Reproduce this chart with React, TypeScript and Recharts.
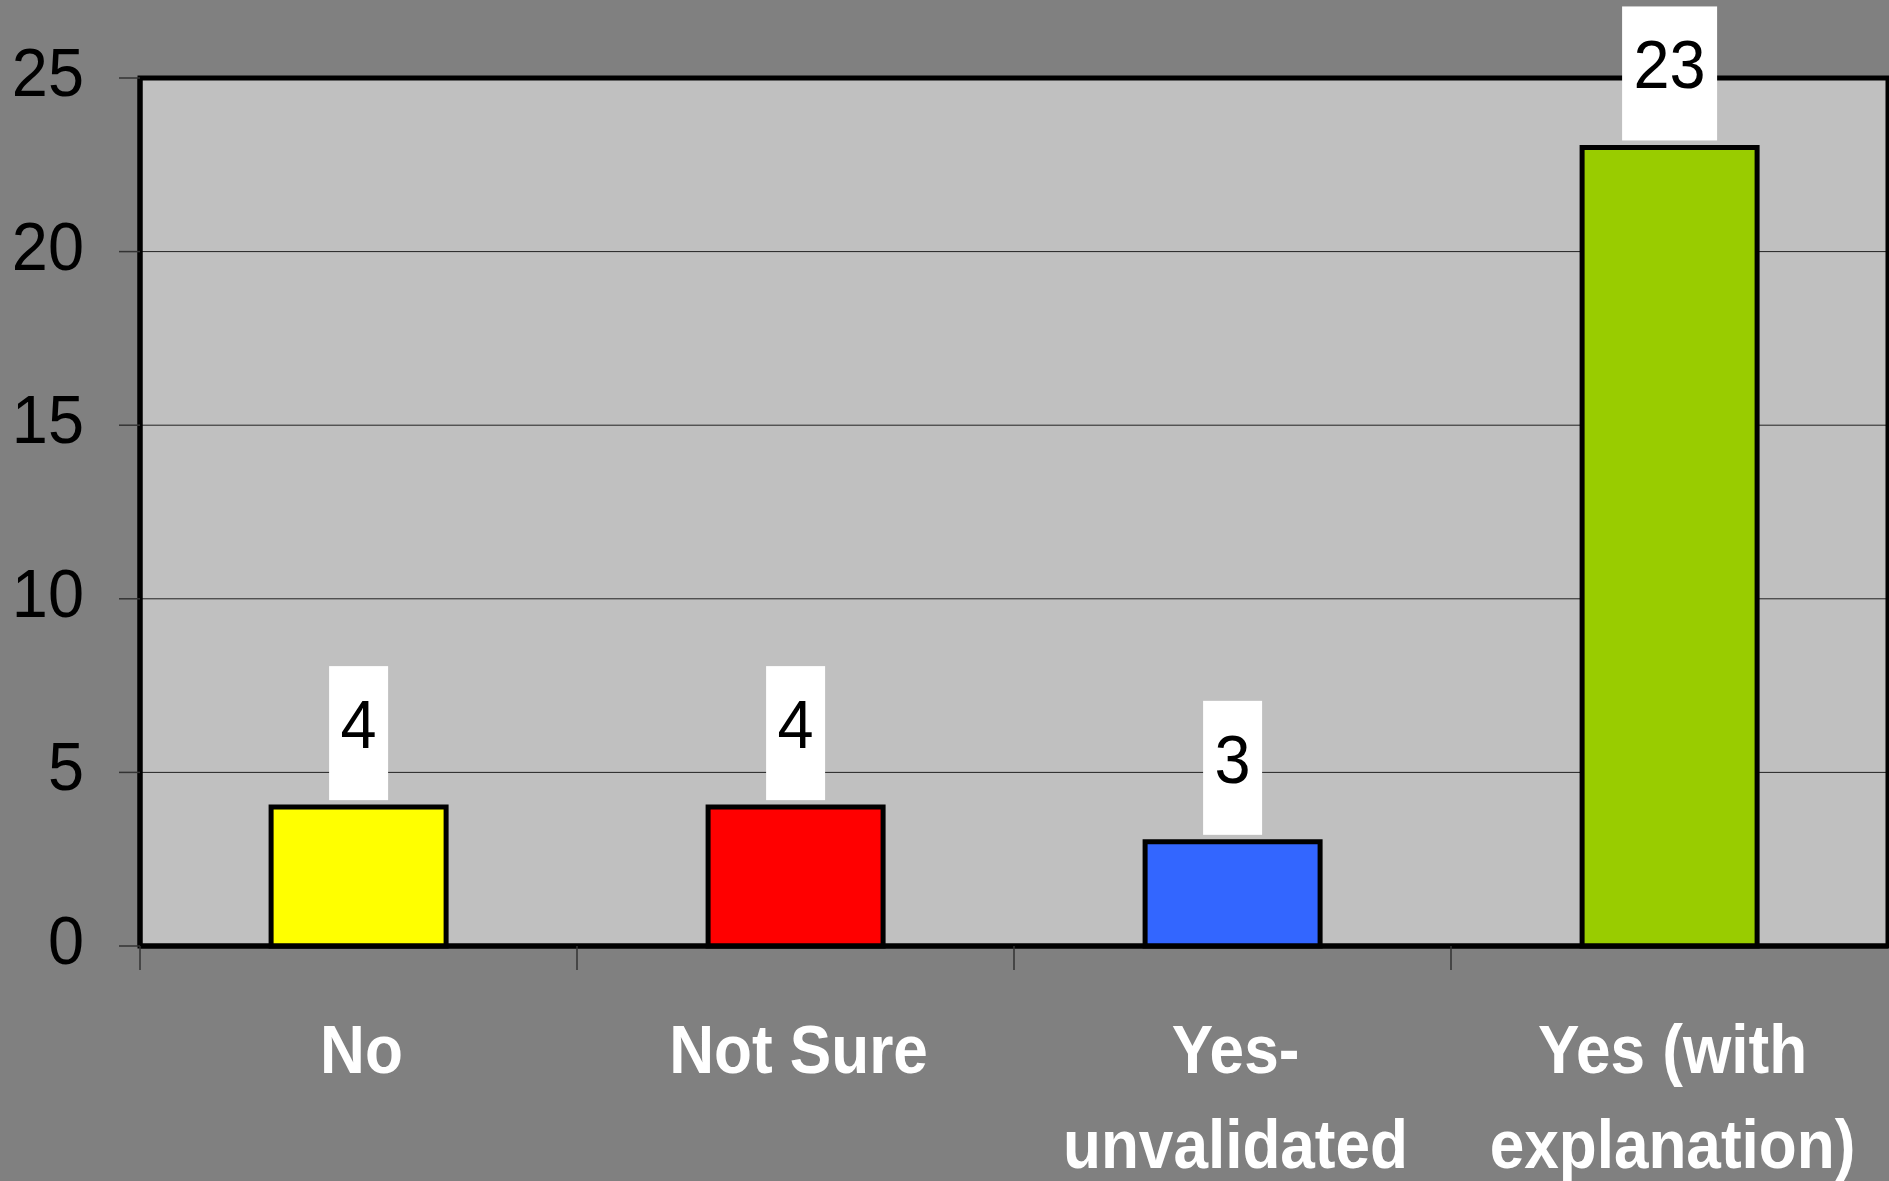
import React from "react";
import {
  BarChart,
  Bar,
  XAxis,
  YAxis,
  CartesianGrid,
  ReferenceArea,
  LabelList,
  Cell,
} from "recharts";

// Survey responses per answer
const categories = ["No", "Not Sure", "Yes-unvalidated", "Yes (with explanation)"];
const counts = [4, 4, 3, 23];
const barColors = ["#FFFF00", "#FF0000", "#3366FF", "#99CC00"];
const categoryLabelLines = [["No"], ["Not Sure"], ["Yes-", "unvalidated"], ["Yes (with", "explanation)"]];
const yTicks = [0, 5, 10, 15, 20, 25];

const data = categories.map((name, i) => ({ name, count: counts[i] }));

const FONT = "'Liberation Sans', Arial, Helvetica, sans-serif";
const SQUEEZE_REGULAR = 0.94;
const SQUEEZE_BOLD = 0.9;
const TEXT_SIZE = 69;

const YTick = (props: any) => {
  const { x, y, payload } = props;
  return (
    <text
      transform={`translate(${x},${y + 18}) scale(${SQUEEZE_REGULAR},1)`}
      textAnchor="end"
      fontFamily={FONT}
      fontSize={TEXT_SIZE}
      fill="#000"
    >
      {payload.value}
    </text>
  );
};

const XTick = (props: any) => {
  const { x, y, payload, width } = props;
  const band = width / categories.length;
  const left = x - band / 2;
  const lines = categoryLabelLines[payload.index] || [String(payload.value)];
  return (
    <g>
      <line x1={left} x2={left} y1={y} y2={y + 24} stroke="#333" strokeWidth={1.5} />
      {lines.map((line, i) => (
        <text
          key={i}
          transform={`translate(${x + 3},${y + 127 + i * 95}) scale(${SQUEEZE_BOLD},1)`}
          textAnchor="middle"
          fontFamily={FONT}
          fontWeight="bold"
          fontSize={TEXT_SIZE}
          fill="#FFFFFF"
        >
          {line}
        </text>
      ))}
    </g>
  );
};

const ValueBox = (props: any) => {
  const { x, y, width, value } = props;
  const cx = x + width / 2;
  const digits = String(value).length;
  const boxW = digits * 36 + 23;
  const boxH = 134;
  const boxTop = y - 7 - boxH;
  return (
    <g>
      <rect x={cx - boxW / 2} y={boxTop} width={boxW} height={boxH} fill="#FFFFFF" />
      <text
        transform={`translate(${cx},${boxTop + 82}) scale(${SQUEEZE_REGULAR},1)`}
        textAnchor="middle"
        fontFamily={FONT}
        fontSize={TEXT_SIZE}
        fill="#000"
      >
        {value}
      </text>
    </g>
  );
};

export default function App() {
  return (
    <div
      style={{
        position: "absolute",
        left: 0,
        top: 0,
        width: 1889,
        height: 1181,
        background: "#808080",
        overflow: "hidden",
      }}
    >
      <BarChart
        width={1889}
        height={1181}
        data={data}
        margin={{ top: 78, right: 1, bottom: 0, left: 0 }}
        barCategoryGap="30%"
      >
        <CartesianGrid
          vertical={false}
          horizontal
          fill="#C0C0C0"
          stroke="#222"
          strokeWidth={1}
        />
        <ReferenceArea y1={0} y2={25} fill="none" stroke="#000" strokeWidth={5} ifOverflow="visible" />
        <YAxis
          domain={[0, 25]}
          ticks={yTicks}
          width={140}
          interval={0}
          axisLine={{ stroke: "#000", strokeWidth: 5 }}
          tickLine={{ stroke: "#333", strokeWidth: 1.5 }}
          tickSize={21}
          tickMargin={35}
          tick={<YTick />}
        />
        <XAxis
          dataKey="name"
          height={235}
          interval={0}
          axisLine={{ stroke: "#000", strokeWidth: 5 }}
          tickLine={false}
          tickSize={0}
          tickMargin={0}
          tick={<XTick />}
        />
        <Bar dataKey="count" stroke="#000" strokeWidth={5} isAnimationActive={false}>
          {data.map((d, i) => (
            <Cell key={d.name} fill={barColors[i]} stroke="#000" strokeWidth={5} />
          ))}
          <LabelList dataKey="count" content={<ValueBox />} />
        </Bar>
      </BarChart>
    </div>
  );
}
